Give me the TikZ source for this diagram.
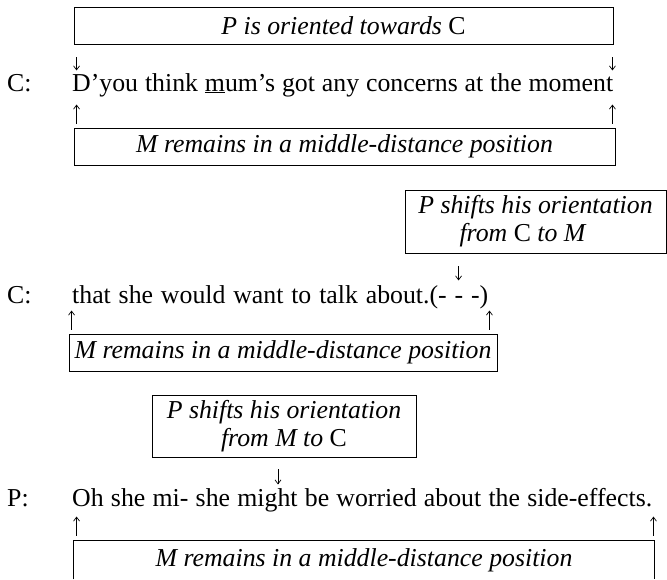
\documentclass[tikz,border=0pt]{standalone}
\usepackage{fontspec}
\setmainfont{Liberation Serif}
\usepackage{tikz}
\usetikzlibrary{arrows.meta}
\newcommand\transcriptfont{\fontsize{25.8pt}{28pt}\selectfont}

\begin{document}
\begin{tikzpicture}[
  x=1pt, y=-1pt,
  every node/.style={font=\transcriptfont},
  note/.style={draw, line width=0.9pt, inner sep=0pt, align=center, font=\transcriptfont\itshape},
  speaker/.style={anchor=base west, inner sep=0pt},
  utterance/.style={anchor=base west, inner sep=0pt},
  pointer/.style={line width=0.7pt, -{Straight Barb[length=4pt, width=6pt]}}
]
\path[use as bounding box, fill=white] (0,0) rectangle (667,579);

% first turn
\node[note, minimum width=539pt, minimum height=37pt] (oriented) at (343.5,25.5)
  {P is oriented towards \textup{C}};
\node[speaker] (spkA) at (7,91) {C:};
\node[utterance] (turnA) at (72,91)
  {\makebox[541pt][s]{D’you think \underline{m}um’s got any concerns at the moment}};
\node[note, minimum width=541pt, minimum height=37pt] (middleA) at (344.5,146.5)
  {M remains in a middle-distance position};
\draw[pointer] (oriented.south west) ++(3,13) -- ++(0,13);
\draw[pointer] (oriented.south east) ++(-1,13) -- ++(0,13);
\draw[pointer] (middleA.north west) ++(3,-4) -- ++(0,-19);
\draw[pointer] (middleA.north east) ++(-3,-4) -- ++(0,-19);

% second turn
\node[note, minimum width=261pt, minimum height=63pt] (shiftCM) at (535.5,221.5)
  {P shifts his orientation\\from \textup{C} to M\hspace*{26pt}};
\node[speaker] (spkB) at (7,303) {C:};
\node[utterance] (turnB) at (72,303)
  {\makebox[416pt][s]{that she would want to talk about.(- - -)}};
\node[note, minimum width=428pt, minimum height=37pt] (middleB) at (283,352.5)
  {M remains in a middle-distance position};
\draw[pointer] (shiftCM.south west) ++(54,13) -- ++(0,14);
\draw[pointer] (middleB.north west) ++(3,-4) -- ++(0,-19);
\draw[pointer] (middleB.north east) ++(-8,-4) -- ++(0,-19);

% third turn
\node[note, minimum width=264pt, minimum height=62pt] (shiftMC) at (284,426)
  {P shifts his orientation\\from M to \textup{C}};
\node[speaker] (spkC) at (7,506) {P:};
\node[utterance] (turnC) at (72,506)
  {\makebox[580pt][s]{Oh she mi- she might be worried about the side-effects.}};
\node[note, draw=none, minimum width=580pt, minimum height=38pt] (middleC) at (364,560)
  {M remains in a middle-distance position};
\draw[line width=0.9pt] (middleC.south west) |- (middleC.north east) -- (middleC.south east);
\draw[pointer] (shiftMC.south) ++(-6,12) -- ++(0,15);
\draw[pointer] (middleC.north west) ++(3,-5) -- ++(0,-19);
\draw[pointer] (middleC.north east) ++(-1,-5) -- ++(0,-19);
\end{tikzpicture}
\end{document}
